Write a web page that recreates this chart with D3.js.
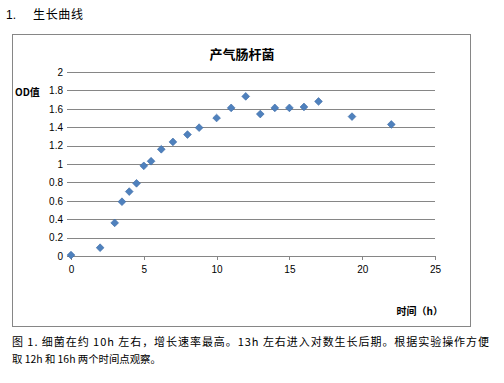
<!DOCTYPE html>
<html><head><meta charset="utf-8">
<script src="https://cdn.jsdelivr.net/npm/d3@7"></script>
<style>
html,body{margin:0;padding:0;background:#fff;}
svg{display:block;}
</style></head>
<body>
<script>
const times = [0, 2, 3, 3.5, 4, 4.5, 5, 5.5, 6.2, 7, 8, 8.8, 10, 11, 12, 13, 14, 15, 16, 17, 19.3, 22];
const odValues = [0.01, 0.09, 0.36, 0.59, 0.70, 0.79, 0.98, 1.03, 1.16, 1.24, 1.32, 1.395, 1.50, 1.61, 1.735, 1.543, 1.61, 1.61, 1.62, 1.68, 1.515, 1.43];
const xTicks = [0, 5, 10, 15, 20, 25];
const yTicks = [0, 0.2, 0.4, 0.6, 0.8, 1, 1.2, 1.4, 1.6, 1.8, 2];
const headerNum = "1.";
const headerText = "生长曲线";
const chartTitle = "产气肠杆菌";
const yTitle = "OD值";
const xTitle = "时间（h）";
const captionLines = ["图 1. 细菌在约 10h 左右，增长速率最高。13h 左右进入对数生长后期。根据实验操作方便",
                      "取 12h 和 16h 两个时间点观察。"];

const W = 504, H = 383;
const svg = d3.select("body").append("svg").attr("width", W).attr("height", H);
const cjk = "'Noto Sans CJK SC', sans-serif";
const lat = "'Liberation Sans', Arial, sans-serif";

svg.append("text").attr("x", 6).attr("y", 19).attr("font-family", lat).attr("font-size", 12)
  .attr("fill", "#000").text(headerNum);
svg.append("text").attr("x", 33).attr("y", 19).attr("font-family", cjk).attr("font-size", 12)
  .attr("textLength", 50).attr("lengthAdjust", "spacing").attr("fill", "#000").text(headerText);

// chart frame
svg.append("rect").attr("x", 12.5).attr("y", 34.5).attr("width", 458).attr("height", 292)
  .attr("fill", "#fff").attr("stroke", "#868686").attr("stroke-width", 1);

const x = d3.scaleLinear().domain([0, 25]).range([71, 435]);
const y = d3.scaleLinear().domain([0, 2]).range([256, 72]);

// gridlines (y axis with extended ticks)
const yAxis = d3.axisLeft(y).tickValues(yTicks).tickSize(0).tickFormat(d3.format("~g"));
const gy = svg.append("g").attr("transform", "translate(71,0)").call(yAxis);
gy.select(".domain").remove();
gy.selectAll(".tick line").attr("x1", -4).attr("x2", 364).attr("stroke", "#868686").attr("shape-rendering", "crispEdges");
gy.selectAll(".tick text").attr("x", -8).attr("font-family", lat).attr("font-size", 10).attr("fill", "#000");

const xAxis = d3.axisBottom(x).tickValues(xTicks).tickSize(4).tickPadding(6);
const gx = svg.append("g").attr("transform", "translate(0,256)").call(xAxis);
gx.select(".domain").attr("stroke", "#868686").attr("d", "M71,0.5H435").attr("shape-rendering", "crispEdges");
gx.selectAll(".tick line").attr("stroke", "#868686").attr("shape-rendering", "crispEdges");
gx.selectAll(".tick text").attr("font-family", lat).attr("font-size", 10).attr("fill", "#000");

// markers
const diamond = d3.symbol().type(d3.symbolSquare).size(30);
svg.append("g").selectAll("path").data(times.map((t, i) => [t, odValues[i]])).join("path")
  .attr("d", diamond)
  .attr("transform", d => `translate(${x(d[0])},${y(d[1])}) rotate(45)`)
  .attr("fill", "#4F81BD").attr("stroke", "#3A6AA6").attr("stroke-width", 0.6);

// titles
svg.append("text").attr("x", 242).attr("y", 58.5).attr("text-anchor", "middle")
  .attr("font-family", cjk).attr("font-size", 13).attr("font-weight", "bold").text(chartTitle);
svg.append("text").attr("x", 15).attr("y", 96).attr("font-family", cjk).attr("font-size", 10)
  .attr("font-weight", "bold").text(yTitle);
svg.append("text").attr("x", 443).attr("y", 315).attr("text-anchor", "end").attr("font-family", cjk)
  .attr("font-size", 10).attr("font-weight", "bold").text(xTitle);

// caption
svg.append("text").attr("x", 12).attr("y", 346).attr("font-family", cjk).attr("font-size", 11)
  .attr("textLength", 477).attr("lengthAdjust", "spacing").text(captionLines[0]);
svg.append("text").attr("x", 12).attr("y", 363).attr("font-family", cjk).attr("font-size", 10.4)
  .text(captionLines[1]);
</script>
</body></html>
